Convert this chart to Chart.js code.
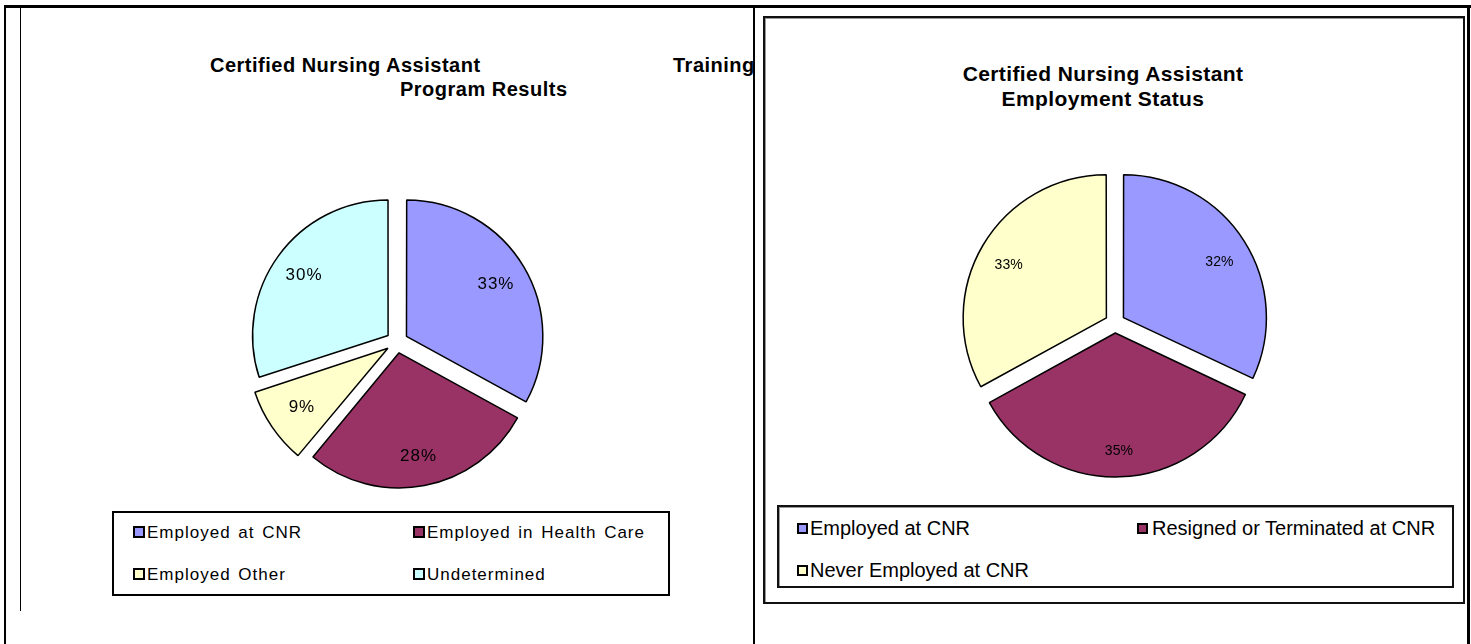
<!DOCTYPE html>
<html>
<head>
<meta charset="utf-8">
<script src="https://cdn.jsdelivr.net/npm/chart.js@4.4.1/dist/chart.umd.min.js"></script>
<style>
  body { margin: 0; background: #fff; width: 1471px; height: 644px; overflow: hidden; position: relative; font-family: "Liberation Sans", Arial, sans-serif; }
  .ln { position: absolute; background: #000; }
  .txt { position: absolute; white-space: nowrap; color: #000; }
  .ttl { font-weight: bold; }
  canvas { position: absolute; }
  .box { position: absolute; box-sizing: border-box; }
  .item { position: absolute; white-space: nowrap; }
  .sw { position: absolute; box-sizing: border-box; border: 2px solid #000; }
  #leftPanel { position: absolute; left: 0; top: 0; width: 753px; height: 644px; overflow: hidden; }
</style>
</head>
<body>
<!-- page lines -->
<div class="ln" style="left:4px;top:5px;width:1467px;height:3px"></div>
<div class="ln" style="left:4px;top:5px;width:2px;height:639px"></div>
<div class="ln" style="left:20px;top:7px;width:1px;height:604px"></div>
<div class="ln" style="left:753px;top:5px;width:2px;height:639px"></div>
<div class="ln" style="left:1467px;top:5px;width:3px;height:639px"></div>

<div id="leftPanel">
  <div class="txt ttl" style="left:210px;top:55px;font-size:20px;line-height:20px;letter-spacing:0.5px">Certified Nursing Assistant</div>
  <div class="txt ttl" style="left:673px;top:55px;font-size:20px;line-height:20px;letter-spacing:0.5px">Training</div>
  <div class="txt ttl" style="left:400px;top:79px;font-size:20px;line-height:20px;letter-spacing:0.5px">Program Results</div>
  <canvas id="leftPie" width="320" height="320" style="left:237px;top:182px"></canvas>
  <div class="box" id="leftLegend" style="left:112px;top:511px;width:558px;height:85px;border:2px solid #000"></div>
</div>

<div class="box" style="left:763px;top:16px;width:702px;height:588px;border:2px solid #111;box-shadow:inset 1px 1px 0 #999"></div>
<div class="txt ttl" style="left:752px;width:702px;text-align:center;top:63px;font-size:21px;line-height:22px;letter-spacing:0.4px">Certified Nursing Assistant</div>
<div class="txt ttl" style="left:752px;width:702px;text-align:center;top:88px;font-size:21px;line-height:22px;letter-spacing:0.4px">Employment Status</div>
<canvas id="rightPie" width="330" height="330" style="left:950px;top:158px"></canvas>
<div class="box" id="rightLegend" style="left:777px;top:505px;width:677px;height:83px;border:2px solid #111;box-shadow:inset 1px 1px 0 #999"></div>

<script>
// left chart: training program results
const leftLabels = ["Employed at CNR", "Employed in Health Care", "Employed Other", "Undetermined"];
const leftValues = [33, 28, 9, 30];
const leftColors = ["#9999FF", "#993366", "#FFFFCC", "#CCFFFF"];

// right chart: employment status
const rightLabels = ["Employed at CNR", "Resigned or Terminated at CNR", "Never Employed at CNR"];
const rightValues = [32, 35, 33];
const rightColors = ["#9999FF", "#993366", "#FFFFCC"];

// percent labels inside each slice
const sliceLabels = {
  id: "sliceLabels",
  afterDatasetsDraw(chart, args, opts) {
    const ctx = chart.ctx;
    const meta = chart.getDatasetMeta(0);
    const data = chart.data.datasets[0].data;
    ctx.save();
    ctx.font = opts.font;
    ctx.letterSpacing = opts.spacing || "0px";
    ctx.fillStyle = "#000";
    ctx.textAlign = "center";
    ctx.textBaseline = "middle";
    meta.data.forEach((arc, i) => {
      const p = arc.getProps(["x", "y", "startAngle", "endAngle", "outerRadius"], true);
      const mid = (p.startAngle + p.endAngle) / 2;
      // chart.js v4 moves the arc by offset/4
      const d = arc.options.offset / 4 + p.outerRadius * opts.ratio;
      ctx.fillText(data[i] + "%", p.x + Math.cos(mid) * d, p.y + Math.sin(mid) * d + (opts.dy || 0));
    });
    ctx.restore();
  }
};

function pintarPie(id, labels, values, colors, radius, offset, labelOpts) {
  const ctx = document.getElementById(id).getContext("2d");
  return new Chart(ctx, {
    type: "pie",
    data: {
      labels: labels,
      datasets: [{
        data: values,
        backgroundColor: colors,
        borderColor: "#000",
        borderWidth: 1.5,
        offset: offset,
        radius: radius
      }]
    },
    options: {
      responsive: false,
      animation: false,
      events: [],
      layout: { padding: 0 },
      plugins: {
        legend: { display: false },
        tooltip: { enabled: false },
        sliceLabels: labelOpts
      }
    },
    plugins: [sliceLabels]
  });
}

// legend in html, built from the chart's own legend items
function pintarLeyenda(chart, idBox, cols, rows, font) {
  const box = document.getElementById(idBox);
  const items = chart.options.plugins.legend.labels.generateLabels(chart);
  items.forEach((it, i) => {
    const c = i % cols.length;
    const r = Math.floor(i / cols.length);
    const sw = document.createElement("div");
    sw.className = "sw";
    sw.style.left = cols[c].sw + "px";
    sw.style.top = (rows[r] - font.sw / 2) + "px";
    sw.style.width = font.sw + "px";
    sw.style.height = font.sw + "px";
    sw.style.background = it.fillStyle;
    box.appendChild(sw);
    const t = document.createElement("div");
    t.className = "item";
    t.textContent = it.text;
    t.style.left = cols[c].tx + "px";
    t.style.top = (rows[r] - font.size / 2) + "px";
    t.style.fontSize = font.size + "px";
    t.style.lineHeight = font.size + "px";
    t.style.letterSpacing = font.ls;
    t.style.wordSpacing = font.ws;
    box.appendChild(t);
  });
}

const izq = pintarPie("leftPie", leftLabels, leftValues, leftColors, 135, 44,
  { font: "17px 'Liberation Sans', Arial", spacing: "1px", ratio: 0.77, dy: 1 });
const der = pintarPie("rightPie", rightLabels, rightValues, rightColors, 142, 40,
  { font: "14px 'Liberation Sans', Arial", spacing: "0px", ratio: 0.8, dy: 5 });

// coordinates relative to the legend boxes (inside the 2px border)
pintarLeyenda(izq, "leftLegend",
  [{ sw: 19, tx: 33 }, { sw: 299, tx: 313 }], [19, 61],
  { size: 17, sw: 12, ls: "1px", ws: "2px" });
pintarLeyenda(der, "rightLegend",
  [{ sw: 18, tx: 31 }, { sw: 358, tx: 373 }], [21, 63],
  { size: 20, sw: 11, ls: "0px", ws: "0px" });
</script>
</body>
</html>
